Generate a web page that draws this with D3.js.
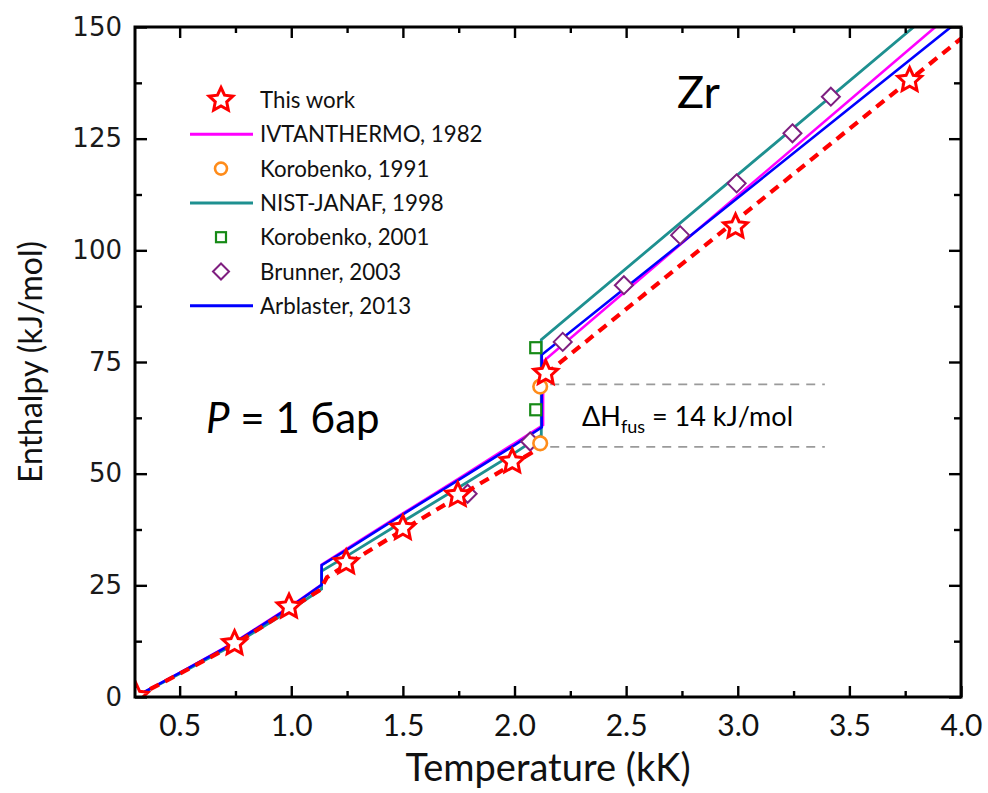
<!DOCTYPE html>
<html><head><meta charset="utf-8">
<script src="https://cdn.jsdelivr.net/npm/d3@7"></script>
<style>
body{margin:0;background:#fff;}
svg{display:block;}
</style></head>
<body>
<svg id="chart" width="988" height="793"></svg>
<script>
// ---------- data ----------
const xMajorTicks = [0.5,1.0,1.5,2.0,2.5,3.0,3.5,4.0];
const xMinorTicks = [0.75,1.25,1.75,2.25,2.75,3.25,3.75];
const yMajorTicks = [0,25,50,75,100,125,150];
const yMinorTicks = [12.5,37.5,62.5,87.5,112.5,137.5];

// This work (stars)
const starT = [0.305,0.746,0.99,1.246,1.5,1.746,1.99,2.14,2.99,3.77];
const starH = [0.2,12.0,20.2,30.1,37.8,45.2,52.7,72.5,105.3,138.1];
// This work fit (red dashed), solid and liquid
const redSolidT = [0.3,0.5,0.75,1.0,1.13,1.16,1.25,1.5,1.75,2.0,2.1];
const redSolidH = [0,5.2,11.9,19.9,24.0,26.8,29.7,37.4,44.9,52.4,55.4];
const redLiqT = [2.14,4.0];
const redLiqH = [72.3,147.4];
// IVTANTHERMO, 1982
const ivtT = [0.3,0.5,0.75,1.0,1.136,1.136,1.25,1.5,1.75,2.0,2.128,2.128,4.0];
const ivtH = [0,5.4,12.4,20.4,25.2,29.6,33.2,41.1,48.9,56.8,60.9,75.1,154.9];
// NIST-JANAF, 1998
const nistT = [0.3,0.5,0.75,1.0,1.136,1.136,1.25,1.5,1.75,2.0,2.12,2.12,4.0];
const nistH = [0,5.2,11.9,19.6,24.2,28.2,31.6,39.3,46.9,54.6,58.6,80.0,158.9];
// Arblaster, 2013
const arbT = [0.3,0.5,0.75,1.0,1.136,1.136,1.25,1.5,1.75,2.0,2.122,2.122,4.0];
const arbH = [0,5.4,12.3,20.3,25.1,29.5,33.0,40.9,48.6,56.4,60.4,76.6,151.8];
// Korobenko, 1991 (circles)
const kor91T = [2.115,2.115];
const kor91H = [56.8,69.5];
// Korobenko, 2001 (squares)
const kor01T = [2.095,2.095];
const kor01H = [64.3,78.2];
// Brunner, 2003 (diamonds)
const brT = [1.79,2.07,2.216,2.49,2.742,2.995,3.245,3.417];
const brH = [45.5,57.2,79.5,92.2,103.4,115.0,126.2,134.4];
// fusion annotation
const fusLevels = [56,70];
const fusSpanT = [2.16,3.39];

const legendLabels = ["This work","IVTANTHERMO, 1982","Korobenko, 1991","NIST-JANAF, 1998","Korobenko, 2001","Brunner, 2003","Arblaster, 2013"];
const legendKinds = ["star","line","circle","line","square","diamond","line"];

// ---------- styles ----------
const C = {red:"#ff0000", mag:"#ff00ff", teal:"#1e9090", blue:"#0000ff", orange:"#ff8c1a", green:"#168a16", purple:"#7f1f80"};
const legendColors = [C.red,C.mag,C.orange,C.teal,C.green,C.purple,C.blue];
const calibri = "Lato, 'Open Sans', sans-serif";

const W=988,H=793;
const L=135,R=961,T=27,B=697;
const svg = d3.select("#chart");
const x = d3.scaleLinear().domain([0.3,4.0]).range([L,R]);
const y = d3.scaleLinear().domain([0,150]).range([B,T]);

const zip = (a,b)=>a.map((v,i)=>[v,b[i]]);

function starPath(Ro,Ri){
  const pts = d3.range(10).map(i=>{
    const a = -Math.PI/2 + i*Math.PI/5;
    const r = i%2===0?Ro:Ri;
    return [r*Math.cos(a), r*Math.sin(a)];
  });
  return "M"+pts.map(p=>p[0].toFixed(2)+","+p[1].toFixed(2)).join("L")+"Z";
}
const STAR = starPath(12.5,6);

svg.append("defs").append("clipPath").attr("id","plotclip")
  .append("rect").attr("x",L).attr("y",T).attr("width",R-L).attr("height",B-T);

const plot = svg.append("g").attr("clip-path","url(#plotclip)");

// fusion dashed lines
plot.selectAll("line.fus").data(fusLevels).enter().append("line")
  .attr("x1",x(fusSpanT[0])).attr("x2",x(fusSpanT[1]))
  .attr("y1",d=>y(d)).attr("y2",d=>y(d))
  .attr("stroke","#9a9a9a").attr("stroke-width",1.6).attr("stroke-dasharray","9,7");

const line = d3.line().x(d=>x(d[0])).y(d=>y(d[1]));

// lines
plot.append("path").datum(zip(ivtT,ivtH)).attr("d",line).attr("fill","none").attr("stroke",C.mag).attr("stroke-width",2.6);
plot.append("path").datum(zip(nistT,nistH)).attr("d",line).attr("fill","none").attr("stroke",C.teal).attr("stroke-width",2.8);
plot.append("path").datum(zip(arbT,arbH)).attr("d",line).attr("fill","none").attr("stroke",C.blue).attr("stroke-width",2.6);

// markers
plot.selectAll("rect.k01").data(zip(kor01T,kor01H)).enter().append("rect")
  .attr("x",d=>x(d[0])-5.5).attr("y",d=>y(d[1])-5.5).attr("width",11).attr("height",11)
  .attr("fill","#fff").attr("stroke",C.green).attr("stroke-width",2.2);
plot.selectAll("path.br").data(zip(brT,brH)).enter().append("path")
  .attr("transform",d=>`translate(${x(d[0])},${y(d[1])})`)
  .attr("d","M0,-9L9,0L0,9L-9,0Z")
  .attr("fill","#fff").attr("stroke",C.purple).attr("stroke-width",2);

// red dashed fits
plot.append("path").datum(zip(redSolidT,redSolidH)).attr("d",line).attr("fill","none")
  .attr("stroke",C.red).attr("stroke-width",4.2).attr("stroke-dasharray","10,7");
plot.append("path").datum(zip(redLiqT,redLiqH)).attr("d",line).attr("fill","none")
  .attr("stroke",C.red).attr("stroke-width",4.2).attr("stroke-dasharray","10,7");

plot.selectAll("circle.k91").data(zip(kor91T,kor91H)).enter().append("circle")
  .attr("cx",d=>x(d[0])).attr("cy",d=>y(d[1])).attr("r",6.8)
  .attr("fill","#fff").attr("stroke",C.orange).attr("stroke-width",2.6);

plot.selectAll("path.star").data(zip(starT,starH)).enter().append("path")
  .attr("transform",d=>`translate(${x(d[0])},${y(d[1])})`)
  .attr("d",STAR).attr("fill","#fff").attr("stroke",C.red).attr("stroke-width",3);

// ---------- axes ----------
function styleAxis(g){
  g.select(".domain").remove();
  g.selectAll(".tick line").attr("stroke","#000").attr("stroke-width",2.4);
}
svg.append("g").attr("transform",`translate(0,${B})`)
  .call(d3.axisBottom(x).tickValues(xMajorTicks).tickSizeInner(-11).tickSizeOuter(0).tickPadding(10).tickFormat(d3.format(".1f")))
  .call(styleAxis)
  .call(g=>g.selectAll("text").attr("font-family",calibri).attr("font-size",30).attr("fill","#111").attr("dy","0.95em"));
svg.append("g").attr("transform",`translate(0,${B})`)
  .call(d3.axisBottom(x).tickValues(xMinorTicks).tickSizeInner(-6).tickSizeOuter(0).tickFormat(""))
  .call(styleAxis);
svg.append("g").attr("transform",`translate(0,${T})`)
  .call(d3.axisTop(x).tickValues(xMajorTicks).tickSizeInner(-11).tickSizeOuter(0).tickFormat(""))
  .call(styleAxis);
svg.append("g").attr("transform",`translate(0,${T})`)
  .call(d3.axisTop(x).tickValues(xMinorTicks).tickSizeInner(-6).tickSizeOuter(0).tickFormat(""))
  .call(styleAxis);

svg.append("g").attr("transform",`translate(${L},0)`)
  .call(d3.axisLeft(y).tickValues(yMajorTicks).tickSizeInner(-12).tickSizeOuter(0).tickPadding(13).tickFormat(d3.format("d")))
  .call(styleAxis)
  .call(g=>g.selectAll("text").attr("font-family","'DejaVu Sans', Verdana, sans-serif").attr("font-size",26).attr("fill","#1a1a1a"));
svg.append("g").attr("transform",`translate(${L},0)`)
  .call(d3.axisLeft(y).tickValues(yMinorTicks).tickSizeInner(-7).tickSizeOuter(0).tickFormat(""))
  .call(styleAxis);
svg.append("g").attr("transform",`translate(${R},0)`)
  .call(d3.axisRight(y).tickValues(yMajorTicks).tickSizeInner(-12).tickSizeOuter(0).tickFormat(""))
  .call(styleAxis);
svg.append("g").attr("transform",`translate(${R},0)`)
  .call(d3.axisRight(y).tickValues(yMinorTicks).tickSizeInner(-7).tickSizeOuter(0).tickFormat(""))
  .call(styleAxis);

svg.append("rect").attr("x",L).attr("y",T).attr("width",R-L).attr("height",B-T)
  .attr("fill","none").attr("stroke","#000").attr("stroke-width",3);

// axis titles
svg.append("text").attr("x",(L+R)/2).attr("y",781).attr("text-anchor","middle")
  .attr("font-family",calibri).attr("font-size",38).attr("fill","#111").text("Temperature (kK)");
svg.append("text").attr("transform",`translate(42,${(T+B)/2}) rotate(-90)`).attr("text-anchor","middle")
  .attr("font-family",calibri).attr("font-size",32).attr("fill","#111").text("Enthalpy (kJ/mol)");

// ---------- legend ----------
const lg = svg.append("g");
const legY0 = 100, legDy = 34.3;
legendLabels.forEach((lab,i)=>{
  const cy = legY0 + i*legDy;
  const k = legendKinds[i], col = legendColors[i];
  if(k==="line") lg.append("line").attr("x1",190).attr("x2",253).attr("y1",cy).attr("y2",cy).attr("stroke",col).attr("stroke-width",3);
  if(k==="star") lg.append("path").attr("transform",`translate(221,${cy})`).attr("d",STAR).attr("fill","#fff").attr("stroke",col).attr("stroke-width",3);
  if(k==="circle") lg.append("circle").attr("cx",221).attr("cy",cy).attr("r",6).attr("fill","#fff").attr("stroke",col).attr("stroke-width",2.6);
  if(k==="square") lg.append("rect").attr("x",216).attr("y",cy-5).attr("width",10).attr("height",10).attr("fill","#fff").attr("stroke",col).attr("stroke-width",2.2);
  if(k==="diamond") lg.append("path").attr("transform",`translate(221,${cy})`).attr("d","M0,-8L8,0L0,8L-8,0Z").attr("fill","#fff").attr("stroke",col).attr("stroke-width",2);
  lg.append("text").attr("x",260).attr("y",cy+8).attr("font-family",calibri).attr("font-size",22.3).attr("fill","#111").text(lab);
});

// ---------- annotations ----------
svg.append("text").attr("x",677).attr("y",108).attr("font-family",calibri).attr("font-size",45).attr("fill","#000").text("Zr");

const pt = svg.append("text").attr("x",206).attr("y",433).attr("font-family",calibri).attr("font-size",42).attr("fill","#000");
pt.append("tspan").attr("font-style","italic").text("P");
pt.append("tspan").text(" = 1 бар");

const dh = svg.append("text").attr("x",582).attr("y",426).attr("font-family",calibri).attr("font-size",27).attr("fill","#000");
dh.append("tspan").text("ΔH");
dh.append("tspan").attr("font-size",18).attr("dy",7).text("fus");
dh.append("tspan").attr("dy",-7).text(" = 14 kJ/mol");
</script>
</body></html>
